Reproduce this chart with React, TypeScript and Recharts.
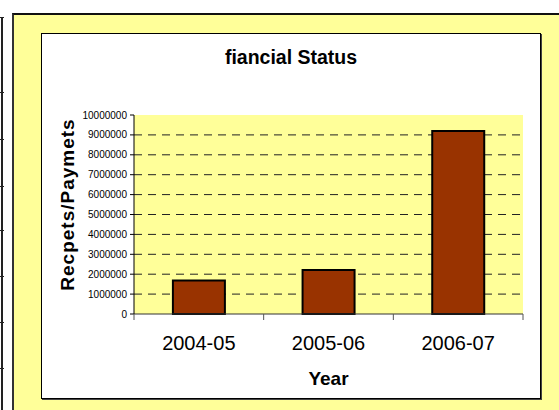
import { BarChart, Bar, XAxis, YAxis, CartesianGrid, Label } from 'recharts';

const years = ['2004-05', '2005-06', '2006-07'];
const amounts = [1680000, 2210000, 9200000];
const yTicks = [0, 1000000, 2000000, 3000000, 4000000, 5000000, 6000000, 7000000, 8000000, 9000000, 10000000];
const gridValues = [1000000, 2000000, 3000000, 4000000, 5000000, 6000000, 7000000, 8000000, 9000000];

const chartTitle = 'fiancial Status';
const yTitle = 'Recpets/Paymets';
const xTitle = 'Year';

const data = years.map((year, i) => ({ year, amount: amounts[i] }));

// rows of the spreadsheet table cut off at the left edge
const tableRuleTops = [17, 92, 139, 186, 230, 276, 322, 368];

const FONT = '"Liberation Sans", Arial, sans-serif';
const X_TICK_SIZE = 6;
const X_TICK_MARGIN = 16;

// Excel-style tick marks sit between categories, not under them
const CategoryTick = (props: any) => {
  const { x, y, payload, index } = props;
  const half = payload.offset || 0;
  const axisY = y - X_TICK_SIZE - X_TICK_MARGIN;
  const last = index === years.length - 1;
  return (
    <g>
      <line x1={x - half} x2={x - half} y1={axisY} y2={axisY + X_TICK_SIZE} stroke="#555" />
      {last && <line x1={x + half} x2={x + half} y1={axisY} y2={axisY + X_TICK_SIZE} stroke="#555" />}
      <text x={x} y={y} dy="0.71em" textAnchor="middle" fontSize={20} fill="#000" fontFamily={FONT}>
        {payload.value}
      </text>
    </g>
  );
};

export default function App() {
  return (
    <div
      style={{
        position: 'absolute',
        left: 0,
        top: 0,
        width: 559,
        height: 410,
        overflow: 'hidden',
        background: '#fff',
        fontFamily: FONT,
      }}
    >
      {/* table edge on the left */}
      <div style={{ position: 'absolute', left: 1, top: 17, width: 2, height: 400, background: '#222' }} />
      {tableRuleTops.map((t) => (
        <div key={t} style={{ position: 'absolute', left: 0, top: t, width: 4, height: 1, background: '#222' }} />
      ))}

      {/* outer chart area */}
      <div
        style={{
          position: 'absolute',
          left: 12,
          top: 13,
          width: 560,
          height: 410,
          background: '#FFFF99',
          borderLeft: '2px solid #333',
          borderTop: '2px solid #111',
        }}
      />

      {/* inner white panel */}
      <div
        style={{
          position: 'absolute',
          left: 41,
          top: 33,
          width: 500,
          height: 366,
          boxSizing: 'border-box',
          background: '#fff',
          border: '1px solid #000',
          boxShadow: '1px 1px 0 #444',
        }}
      />

      <div
        style={{
          position: 'absolute',
          left: 41,
          top: 48,
          width: 500,
          textAlign: 'center',
          fontSize: 19.5,
          lineHeight: '19px',
          fontWeight: 'bold',
          color: '#000',
        }}
      >
        {chartTitle}
      </div>

      <div style={{ position: 'absolute', left: 41, top: 33 }}>
        <BarChart
          width={500}
          height={366}
          data={data}
          margin={{ top: 82, right: 18, bottom: 0, left: 0 }}
          barCategoryGap="30%"
          style={{ fontFamily: FONT }}
        >
          <CartesianGrid
            fill="#FFFF99"
            fillOpacity={1}
            vertical={false}
            horizontalValues={gridValues}
            stroke="#222"
            strokeDasharray="8 6"
          />
          <XAxis
            dataKey="year"
            height={85}
            tickLine={false}
            tickSize={X_TICK_SIZE}
            tickMargin={X_TICK_MARGIN}
            axisLine={{ stroke: '#333' }}
            tick={CategoryTick}
          >
            <Label
              value={xTitle}
              position="insideBottom"
              offset={14}
              style={{ fontSize: 19, fontWeight: 'bold', fill: '#000' }}
            />
          </XAxis>
          <YAxis
            width={93}
            domain={[0, 10000000]}
            ticks={yTicks}
            interval={0}
            tickFormatter={(v: number) => String(v)}
            tickSize={4}
            tickMargin={3}
            axisLine={{ stroke: '#000' }}
            tickLine={{ stroke: '#000' }}
            tick={{ fontSize: 10, fill: '#000' }}
          >
            <Label
              value={yTitle}
              angle={-90}
              position="insideLeft"
              offset={26}
              dy={-10}
              style={{ fontSize: 19, fontWeight: 'bold', fill: '#000', textAnchor: 'middle', letterSpacing: 1 }}
            />
          </YAxis>
          <Bar dataKey="amount" fill="#993300" stroke="#000" strokeWidth={2} isAnimationActive={false} />
        </BarChart>
      </div>
    </div>
  );
}
